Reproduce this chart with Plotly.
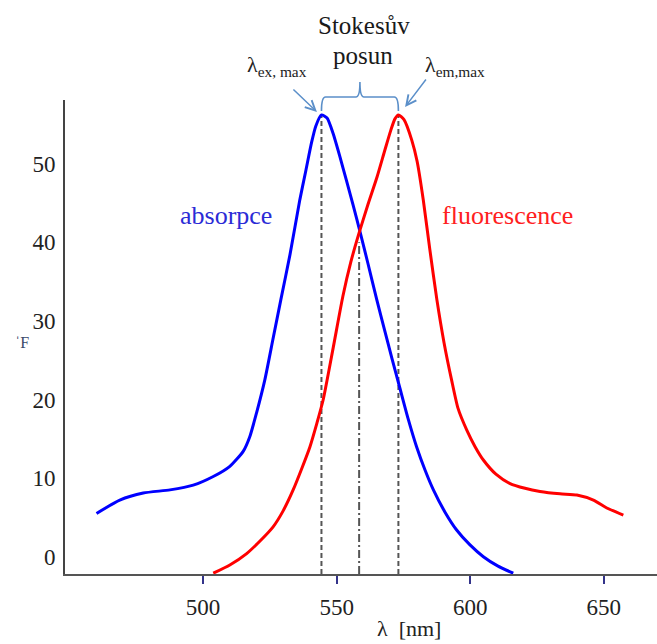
import plotly.graph_objects as go

# Absorption (excitation) spectrum
abs_wl = [460.1, 468.8, 477.6, 487.6, 496.3, 503.8, 510.0, 515.0, 517.5, 520.0, 523.1,
          526.1, 529.1, 532.5, 536.2, 538.5, 540.6, 542.2, 544.3,
          546.4, 548.6, 551.2, 553.7, 556.1, 558.7, 561.7, 565.0, 568.1, 570.7,
          573.7, 576.7, 579.9, 583.1, 586.2, 590.5, 594.9, 599.9, 604.9, 610.4, 616.1]
abs_val = [5.5, 7.2, 8.1, 8.5, 9.1, 10.2, 11.5, 13.4, 15.3, 18.3, 22.5,
           27.6, 32.7, 38.4, 45.4, 49.2, 52.7, 54.8, 56.2,
           55.8, 53.9, 50.9, 47.8, 44.8, 41.4, 37.3, 32.7, 28.6, 25.2,
           21.4, 17.6, 14.0, 11.0, 8.5, 5.7, 3.4, 1.5, 0.0, -1.2, -2.1]

# Fluorescence (emission) spectrum
fl_wl = [503.8, 510.0, 516.3, 521.3, 526.2, 529.9, 533.7, 536.9, 540.0, 542.6,
         544.9, 548.7, 552.3, 555.3, 558.3, 561.7, 565.1, 568.1, 570.3, 571.8, 573.1,
         575.2, 578.1, 580.1, 582.4, 584.9, 587.5, 590.2, 593.0, 595.4, 598.7, 601.8,
         604.9, 609.6, 614.9, 620.5, 626.1, 633.6, 639.9, 646.1, 651.1, 657.3]
fl_val = [-2.1, -1.05, 0.4, 2.0, 3.8, 5.8, 8.5, 11.2, 14.0, 17.0,
          19.9, 26.6, 33.1, 37.5, 41.1, 44.8, 48.3, 51.8, 54.3, 55.7, 56.2,
          55.6, 53.0, 50.3, 45.4, 39.0, 32.7, 27.2, 22.5, 18.9, 16.1, 14.0,
          12.3, 10.5, 9.3, 8.7, 8.3, 8.0, 7.85, 7.2, 6.2, 5.3]

# Peak positions and intersection of the two spectra
ex_max = 544.3
em_max = 573.1
peak_val = 56.2
cross_wl = 558.4
cross_val = 40.0

x_ticks = [500, 550, 600, 650]
y_ticks = [0, 10, 20, 30, 40, 50]

x_range = [448.3, 669.9]
y_range = [-2.2, 58.1]

serif = "Liberation Serif"
guide_col = "#5b8fc9"

fig = go.Figure()

# vertical guides at the two maxima and at the crossing point
for xv in (ex_max, em_max):
    fig.add_trace(go.Scatter(x=[xv, xv], y=[y_range[0], peak_val], mode="lines",
                             line=dict(color="#555555", width=2, dash="5px,3px"),
                             hoverinfo="skip", showlegend=False))
fig.add_trace(go.Scatter(x=[cross_wl, cross_wl], y=[y_range[0], cross_val], mode="lines",
                         line=dict(color="#555555", width=2, dash="8px,3px,2px,3px"),
                         hoverinfo="skip", showlegend=False))

fig.add_trace(go.Scatter(x=abs_wl, y=abs_val, mode="lines", name="absorpce",
                         line=dict(color="#0000ff", width=3, shape="spline", smoothing=0.6),
                         showlegend=False))
fig.add_trace(go.Scatter(x=fl_wl, y=fl_val, mode="lines", name="fluorescence",
                         line=dict(color="#ff0000", width=3, shape="spline", smoothing=0.6),
                         showlegend=False))

# curly brace spanning the Stokes shift
y0, y1, y2 = 0.9768, 1.0063, 1.038
xm = (ex_max + em_max) / 2
brace = (f"M {ex_max},{y0} Q {ex_max},{y1} {ex_max + 1.5},{y1} "
         f"L {xm - 1.5},{y1} Q {xm},{y1} {xm},{y2} "
         f"Q {xm},{y1} {xm + 1.5},{y1} L {em_max - 1.5},{y1} "
         f"Q {em_max},{y1} {em_max},{y0}")
fig.add_shape(type="path", path=brace, xref="x", yref="paper",
              line=dict(color=guide_col, width=1.6))

ann = []
# arrows pointing to the maxima
ann.append(dict(x=ex_max - 1.7, y=0.9747, xref="x", yref="paper", text="",
                showarrow=True, ax=-25, ay=-24, arrowhead=5, arrowsize=1.3,
                arrowwidth=1.5, arrowcolor=guide_col))
ann.append(dict(x=em_max + 2.5, y=0.9852, xref="x", yref="paper", text="",
                showarrow=True, ax=22, ay=-29, arrowhead=5, arrowsize=1.3,
                arrowwidth=1.5, arrowcolor=guide_col))
ann.append(dict(x=515.6, y=1.072, xref="x", yref="paper", xanchor="left", yanchor="middle",
                text="λ<sub>ex, max</sub>", showarrow=False,
                font=dict(family=serif, size=22, color="#222222")))
ann.append(dict(x=582.3, y=1.072, xref="x", yref="paper", xanchor="left", yanchor="middle",
                text="λ<sub>em,max</sub>", showarrow=False,
                font=dict(family=serif, size=22, color="#222222")))
ann.append(dict(x=560.3, y=1.158, xref="x", yref="paper", xanchor="center", yanchor="middle",
                text="Stokesův", showarrow=False,
                font=dict(family=serif, size=25, color="#1a1a1a")))
ann.append(dict(x=560.0, y=1.094, xref="x", yref="paper", xanchor="center", yanchor="middle",
                text="posun", showarrow=False,
                font=dict(family=serif, size=25, color="#1a1a1a")))
# curve labels
ann.append(dict(x=508.5, y=43.4, xref="x", yref="y", text="absorpce", showarrow=False,
                font=dict(family=serif, size=26, color="#2b2bd6")))
ann.append(dict(x=613.8, y=43.4, xref="x", yref="y", text="fluorescence", showarrow=False,
                font=dict(family=serif, size=26, color="#ff2020")))
# axis titles
ann.append(dict(x=577.1, y=-0.1456, xref="x", yref="paper", text="λ  [nm]", showarrow=False,
                yanchor="bottom", font=dict(family=serif, size=22, color="#222222")))
ann.append(dict(x=-0.088, y=0.489, xref="paper", yref="paper", text="ˈF", showarrow=False,
                font=dict(family=serif, size=16, color="#3a4a6a")))

fig.update_layout(
    width=657, height=644,
    margin=dict(l=65, r=0, t=100, b=70),
    plot_bgcolor="white", paper_bgcolor="white",
    annotations=ann,
    xaxis=dict(range=x_range, tickvals=x_ticks, showgrid=False, zeroline=False,
               showline=True, linecolor="#555555", linewidth=2,
               ticks="outside", ticklen=8, tickwidth=1.5, tickcolor="#33338a",
               ticklabelstandoff=3,
               tickfont=dict(family=serif, size=23, color="#222222")),
    yaxis=dict(range=y_range, tickvals=y_ticks, showgrid=False, zeroline=False,
               showline=True, linecolor="#444444", linewidth=2,
               ticks="", ticklabelstandoff=3,
               tickfont=dict(family=serif, size=23, color="#222222")),
)

fig.write_html("out.html")
